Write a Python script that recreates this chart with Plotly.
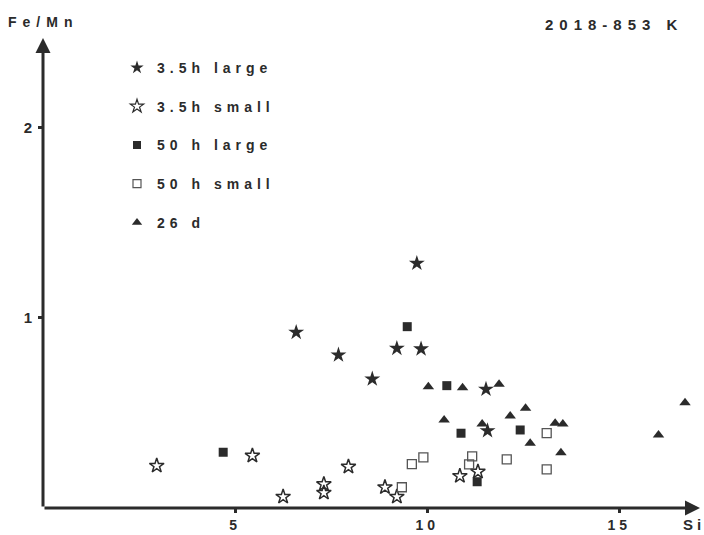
import plotly.graph_objects as go

# ---- data (Si, Fe/Mn) ----
star_large_x = [6.59, 7.69, 8.57, 9.21, 9.73, 9.84, 11.53, 11.57]
star_large_y = [0.923, 0.804, 0.678, 0.839, 1.286, 0.836, 0.624, 0.406]

star_small_x = [2.96, 5.45, 6.25, 7.31, 7.31, 7.95, 8.90, 9.21, 10.85, 11.32]
star_small_y = [0.222, 0.275, 0.059, 0.125, 0.080, 0.217, 0.109, 0.059, 0.168, 0.191]

sq_large_x = [4.69, 9.48, 10.51, 10.88, 12.42, 11.30]
sq_large_y = [0.293, 0.953, 0.643, 0.393, 0.410, 0.138]

sq_small_x = [9.60, 9.90, 9.34, 11.17, 11.09, 12.07, 13.11, 13.11]
sq_small_y = [0.231, 0.266, 0.109, 0.271, 0.229, 0.256, 0.393, 0.203]

tri_x = [10.03, 10.92, 11.87, 10.44, 11.43, 12.16, 12.56, 12.68, 13.33, 13.53, 13.48, 16.02, 16.71]
tri_y = [0.637, 0.632, 0.650, 0.462, 0.441, 0.483, 0.524, 0.340, 0.445, 0.441, 0.291, 0.384, 0.553]

series_names = ["3.5h large", "3.5h small", "50 h large", "50 h small", "26 d"]
x_ticks = [5, 10, 15]
y_ticks = [1, 2]
x_max, y_max = 17.1, 2.47

INK = "#2b2b2b"
FONT = "Liberation Sans"


def spaced(t, s=3):
    return f'<span style="letter-spacing:{s}px">{t}</span>'


fig = go.Figure()
specs = [
    (star_large_x, star_large_y, "star", 12, INK, 0, 10),
    (star_small_x, star_small_y, "star-open", 11, INK, 1.5, 10),
    (sq_large_x, sq_large_y, "square", 9, INK, 0, 8),
    (sq_small_x, sq_small_y, "square-open", 9, "#555", 1.3, 8),
    (tri_x, tri_y, "triangle-up", 10, INK, 0, 9),
]
for i, (xs, ys, sym, sz, col, lw, lsz) in enumerate(specs):
    fig.add_trace(go.Scatter(
        x=xs, y=ys, mode="markers", showlegend=False,
        marker=dict(symbol=sym, size=sz, color=col, line=dict(width=lw, color=col)),
        cliponaxis=False,
    ))
    # legend entry with small symbol
    fig.add_trace(go.Scatter(
        x=[None], y=[None], mode="markers", name=spaced(series_names[i], 5),
        legendgroup=f"g{i}",
        marker=dict(symbol=sym, size=lsz, color=col, line=dict(width=min(lw, 1.2), color=col)),
    ))

W, H = 704, 535
ml, mr, mt, mb = 43, 4, 38, 27
pw, ph = W - ml - mr, H - mt - mb


def px(x):
    return (x - ml) / pw


def py(y):
    return (H - mb - y) / ph


fig.update_layout(
    width=W, height=H,
    margin=dict(l=ml, r=mr, t=mt, b=mb, autoexpand=False),
    paper_bgcolor="white", plot_bgcolor="white",
    font=dict(family=FONT, size=13, color=INK),
    showlegend=True,
    legend=dict(
        x=px(117), y=py(52), xanchor="left", yanchor="top",
        font=dict(family=FONT, size=14, color=INK, weight="bold"),
        tracegroupgap=17.5, bgcolor="rgba(0,0,0,0)",
        itemwidth=30,
    ),
    xaxis=dict(
        range=[0, x_max], showgrid=False, zeroline=False, showline=False,
        automargin=False,
        tickmode="array", tickvals=x_ticks,
        ticktext=[spaced(str(v), 4) for v in x_ticks],
        ticks="outside", ticklen=4, tickwidth=2.5, tickcolor=INK,
        ticklabelstandoff=0,
        tickfont=dict(family=FONT, size=14, color=INK, weight="bold"),
        fixedrange=True,
    ),
    yaxis=dict(
        range=[0, y_max], showgrid=False, zeroline=False, showline=False,
        automargin=False,
        tickmode="array", tickvals=y_ticks,
        ticktext=[str(v) for v in y_ticks],
        ticks="outside", ticklen=4, tickwidth=2.5, tickcolor=INK,
        ticklabelstandoff=3,
        tickfont=dict(family=FONT, size=15, color=INK, weight="bold"),
        fixedrange=True,
    ),
)

# axes drawn as arrows from the origin
fig.add_annotation(x=x_max, y=0, ax=0, ay=0, xref="x", yref="y",
                   axref="x", ayref="y", showarrow=True, arrowhead=2,
                   arrowsize=1.0, arrowwidth=3, arrowcolor=INK, text="")
fig.add_annotation(x=0, y=y_max, ax=0, ay=0, xref="x", yref="y",
                   axref="x", ayref="y", showarrow=True, arrowhead=2,
                   arrowsize=1.0, arrowwidth=3, arrowcolor=INK, text="")

# texts
fig.add_annotation(x=px(43), y=py(22), xref="paper", yref="paper",
                   xanchor="center", yanchor="middle",
                   text=spaced("Fe/Mn", 6), showarrow=False,
                   font=dict(family=FONT, size=14, color=INK, weight="bold"))
fig.add_annotation(x=px(694), y=py(524), xref="paper", yref="paper",
                   xanchor="center", yanchor="middle",
                   text=spaced("Si", 4), showarrow=False,
                   font=dict(family=FONT, size=15, color=INK, weight="bold"))
fig.add_annotation(x=px(614), y=py(25), xref="paper", yref="paper",
                   xanchor="center", yanchor="middle",
                   text=spaced("2018-853 K", 6), showarrow=False,
                   font=dict(family=FONT, size=15, color=INK, weight="bold"))

fig.write_html("out.html")
